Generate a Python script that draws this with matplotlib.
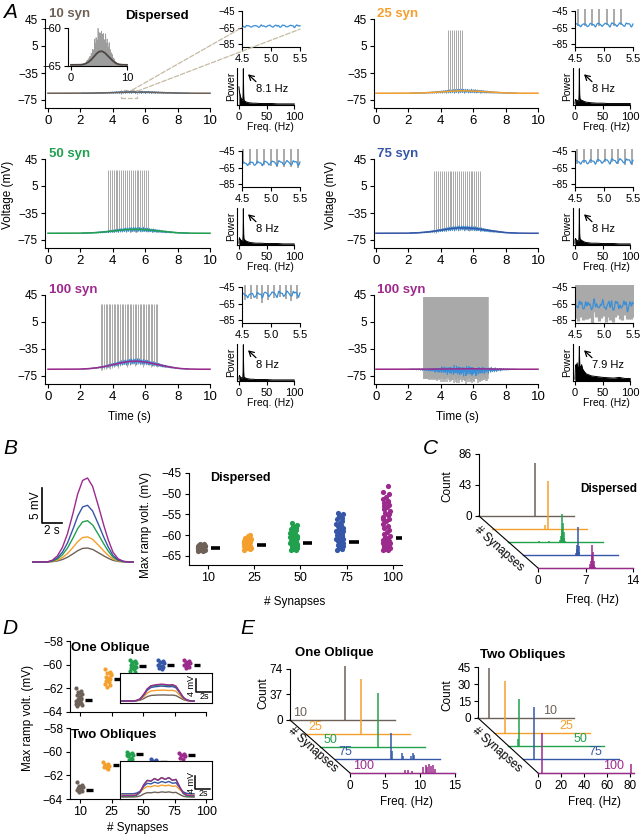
import numpy as np
import matplotlib
matplotlib.use("Agg")
import matplotlib.pyplot as plt
from matplotlib.patches import Rectangle, ConnectionPatch
from matplotlib.lines import Line2D

plt.rcParams['font.family'] = ['Liberation Sans', 'DejaVu Sans']
plt.rcParams['axes.linewidth'] = 0.8
plt.rcParams['xtick.major.width'] = 0.8
plt.rcParams['ytick.major.width'] = 0.8
plt.rcParams['xtick.major.size'] = 3
plt.rcParams['ytick.major.size'] = 3
plt.rcParams['xtick.major.pad'] = 2
plt.rcParams['ytick.major.pad'] = 2

##### data
syn_groups = ['10', '25', '50', '75', '100']
syn_colors = ['#6e6157', '#f5a02c', '#21a04e', '#3656a8', '#9c2a8d']
theta_col = '#3b8fd6'
spike_col = '#a9a9a9'

# ramp envelope (normalised), sampled every 0.5 s
ramp_t = [0, 0.5, 1, 1.5, 2, 2.5, 3, 3.5, 4, 4.5, 5, 5.5, 6, 6.5, 7, 7.5, 8, 8.5, 9, 9.5, 10]
ramp_shape = [0, 0, 0, 0, 0.02, 0.07, 0.17, 0.33, 0.55, 0.80, 0.97, 1.0, 0.90, 0.70,
              0.48, 0.28, 0.12, 0.04, 0.01, 0, 0]
baseline_v = -65.0

# panel A
a_titles = ['10 syn', '25 syn', '50 syn', '75 syn', '100 syn', '100 syn']
a_color_idx = [0, 1, 2, 3, 4, 4]
a_ramp_peak = [1.8, 3.6, 5.9, 8.1, 12.0, 0.8]
a_theta_amp = [1.0, 1.8, 2.2, 2.3, 2.6, 3.5]
a_theta_dc = [0, 0, 0, 0, 0, -3.0]
a_theta_freq = [8.1, 8.0, 8.0, 8.0, 8.0, 7.9]
a_rough = [0.5, 0.3, 0.3, 0.3, 0.4, 1.0]
a_spike_on = [0, 4.42, 3.70, 3.60, 3.25, 2.95]
a_spike_off = [0, 5.40, 6.20, 6.50, 6.80, 6.95]
a_spike_rate = [0, 8.0, 8.5, 8.5, 10.0, 25.0]
a_spike_peak = [0, 28, 28, 27, 32, 42]
a_spike_low = [0, 0, -1, -1, -4, -14]

psd_freq = [0, 0.5, 1, 2, 3, 4, 5, 6, 7, 7.5, 8, 8.5, 9, 10, 11, 12, 14, 16, 18, 20,
            25, 30, 40, 50, 60, 70, 80, 90, 100]
psd_vals = [
    [0.50, 0.42, 0.35, 0.28, 0.22, 0.18, 0.15, 0.13, 0.14, 0.30, 1.00, 0.28, 0.14, 0.12, 0.10,
     0.09, 0.08, 0.07, 0.06, 0.06, 0.05, 0.05, 0.04, 0.04, 0.04, 0.03, 0.03, 0.03, 0.03],
    [0.05, 0.10, 0.15, 0.14, 0.13, 0.12, 0.12, 0.12, 0.14, 0.30, 1.00, 0.30, 0.15, 0.16, 0.14,
     0.13, 0.12, 0.10, 0.09, 0.08, 0.07, 0.06, 0.05, 0.05, 0.04, 0.04, 0.04, 0.04, 0.04],
    [0.05, 0.15, 0.20, 0.16, 0.14, 0.13, 0.12, 0.12, 0.14, 0.30, 1.00, 0.30, 0.16, 0.15, 0.13,
     0.12, 0.10, 0.09, 0.08, 0.07, 0.06, 0.05, 0.05, 0.04, 0.04, 0.04, 0.03, 0.03, 0.03],
    [0.05, 0.15, 0.18, 0.15, 0.13, 0.12, 0.12, 0.12, 0.14, 0.30, 1.00, 0.30, 0.16, 0.16, 0.14,
     0.13, 0.11, 0.09, 0.08, 0.07, 0.06, 0.05, 0.05, 0.04, 0.04, 0.04, 0.03, 0.03, 0.03],
    [0.05, 0.12, 0.15, 0.12, 0.10, 0.09, 0.09, 0.09, 0.10, 0.25, 1.00, 0.25, 0.11, 0.10, 0.09,
     0.08, 0.07, 0.06, 0.06, 0.05, 0.05, 0.04, 0.04, 0.04, 0.03, 0.03, 0.03, 0.03, 0.03],
    [0.05, 0.20, 0.40, 0.45, 0.38, 0.50, 0.36, 0.30, 0.42, 0.55, 0.95, 0.52, 0.34, 0.40, 0.30,
     0.45, 0.33, 0.28, 0.24, 0.20, 0.17, 0.14, 0.12, 0.10, 0.09, 0.08, 0.10, 0.07, 0.07],
]
psd_labels = ['8.1 Hz', '8 Hz', '8 Hz', '8 Hz', '8 Hz', '7.9 Hz']

# panel B
b_peak = [2.0, 3.6, 5.9, 8.1, 12.0]
b10 = [-63.9, -63.7, -63.6, -63.5, -63.4, -63.3, -63.3, -63.2, -63.1, -63.0, -63.0, -62.9,
       -62.8, -62.7, -62.6, -62.5, -62.4, -62.3, -62.2, -62.1, -63.8, -63.4, -63.1, -62.9,
       -62.7, -63.6, -63.2, -62.5, -62.8, -63.5]
b25 = [-63.6, -63.4, -63.2, -63.0, -62.8, -62.7, -62.5, -62.3, -62.2, -62.0, -61.9, -61.7,
       -61.5, -61.3, -61.1, -60.9, -60.6, -60.3, -60.0, -62.9, -62.4, -61.8, -61.2, -63.1, -62.6]
b50 = [-63.7, -63.5, -63.3, -63.1, -62.9, -62.7, -62.5, -62.3, -62.1, -61.9, -61.7, -61.5,
       -61.3, -61.1, -60.9, -60.7, -60.5, -60.3, -60.1, -59.9, -59.7, -59.4, -59.1, -58.8,
       -58.5, -58.2, -57.9, -57.5, -57.1, -62.8, -62.2, -61.6, -61.0, -60.4, -59.8, -63.0, -62.0]
b75 = [-63.6, -63.3, -63.0, -62.7, -62.4, -62.1, -61.8, -61.5, -61.2, -60.9, -60.6, -60.3,
       -60.0, -59.7, -59.4, -59.1, -58.8, -58.5, -58.2, -57.9, -57.6, -57.3, -57.0, -56.6,
       -56.2, -55.8, -55.4, -55.0, -54.6, -62.9, -61.0, -59.2, -60.8, -58.9]
b100 = [-63.7, -63.5, -63.3, -63.1, -62.9, -62.7, -62.5, -62.3, -62.1, -61.9, -61.7, -61.5,
        -61.2, -60.9, -60.5, -60.1, -59.7, -59.2, -58.7, -58.2, -57.7, -57.2, -56.7, -56.2,
        -55.7, -55.2, -54.7, -54.2, -53.7, -53.2, -52.7, -52.2, -51.7, -51.2, -50.7, -50.2,
        -49.7, -48.1, -62.6, -62.0, -61.4, -63.0, -55.0, -53.0, -52.0, -56.0]
b_points = [b10, b25, b50, b75, b100]
b_means = [-63.2, -62.4, -61.8, -61.6, -60.6]

# panel C (spike frequency histograms)
c_freqs = [[8.2],
           [7.8, 8.2],
           [4.6, 6.0, 7.7, 7.8, 7.9, 8.0, 8.1, 8.2, 8.3, 8.4],
           [7.8, 7.9, 8.0, 8.1, 8.2, 8.3],
           [7.6, 7.7, 7.8, 7.9, 8.0, 8.1, 8.2, 8.3, 8.4]]
c_counts = [[73],
            [5, 67],
            [1, 1, 3, 8, 18, 39, 26, 14, 6, 2],
            [3, 8, 14, 39, 12, 4],
            [2, 5, 10, 18, 32, 22, 10, 4, 2]]

# panel D
d1_points = [[-62.0, -62.2, -62.3, -62.5, -62.6, -62.7, -62.8, -62.9, -63.0, -63.1, -63.2,
              -63.3, -63.4, -63.5, -62.4, -62.9, -63.1, -62.7, -63.3],
             [-60.4, -60.6, -60.7, -60.8, -61.0, -61.1, -61.2, -61.3, -61.5, -61.6, -61.7,
              -61.9, -60.9, -61.4],
             [-59.6, -59.7, -59.8, -59.9, -60.0, -60.1, -60.2, -60.3, -60.4, -60.5, -60.6,
              -59.9, -60.2],
             [-59.6, -59.7, -59.8, -59.9, -60.0, -60.1, -60.2, -60.3, -60.4, -60.0, -59.8],
             [-59.6, -59.7, -59.8, -59.9, -60.0, -60.1, -60.2, -60.3, -59.9, -60.0]]
d1_means = [-63.0, -61.2, -60.1, -60.0, -60.0]
d2_points = [[-62.6, -62.8, -62.9, -63.0, -63.1, -63.2, -63.3, -63.4, -63.0, -63.2],
             [-60.9, -61.0, -61.1, -61.2, -61.3, -61.4, -61.5, -61.1, -61.2],
             [-60.0, -60.1, -60.2, -60.3, -60.4, -60.5, -60.6, -60.7, -60.9, -60.3],
             [-60.6, -60.7, -60.8, -60.9, -61.0, -61.1, -60.8],
             [-60.1, -60.2, -60.3, -60.4, -60.5, -60.6, -60.3]]
d2_means = [-63.2, -61.1, -60.2, -60.9, -60.3]
d_shape_one = [0, 0, 0, 0, 0.03, 0.12, 0.38, 0.72, 0.90, 0.95, 0.97, 1.0, 0.97, 0.95, 0.97,
               0.88, 0.55, 0.22, 0.06, 0.01, 0]
d_shape_two = [0, 0, 0, 0, 0.05, 0.20, 0.60, 0.85, 0.80, 0.95, 0.85, 1.0, 0.90, 1.0, 0.85,
               0.90, 0.50, 0.15, 0.03, 0, 0]
d1_peak = [1.9, 3.4, 5.0, 4.6, 5.2]
d2_peak = [1.6, 2.8, 5.8, 3.8, 5.6]
d2_base = [0, 0.9, 0.2, 1.0, 0.4]

# panel E
e1_freqs = [[7.9], [8.0], [8.3],
            [8.0, 8.1, 9.6, 9.7, 10.9, 11.1, 11.3],
            [7.9, 8.3, 8.8, 10.5, 10.8, 11.0, 11.3, 11.6, 11.9, 12.2]]
e1_counts = [[78], [79], [78],
             [38, 12, 8, 5, 4, 8, 6],
             [5, 4, 3, 8, 12, 9, 13, 10, 12, 6]]
e2_freqs = [[10], [10], [8.8, 9.5], [9.3], [3.5, 81]]
e2_counts = [[44], [46], [6, 42], [46], [35, 8]]

#####
W, H = 642, 836
fig = plt.figure(figsize=(W / 100, H / 100), dpi=100)


def pax(x0, y0, x1, y1):
    return fig.add_axes([x0 / W, 1 - y1 / H, (x1 - x0) / W, (y1 - y0) / H])


def ftext(x, y, s, **kw):
    kw.setdefault('ha', 'center')
    kw.setdefault('va', 'center')
    return fig.text(x / W, 1 - y / H, s, **kw)


def clean(ax):
    ax.spines['top'].set_visible(False)
    ax.spines['right'].set_visible(False)
    ax.patch.set_alpha(0)


def traces(i, t):
    env = np.interp(t, ramp_t, ramp_shape)
    ramp = baseline_v + a_ramp_peak[i] * env
    f = a_theta_freq[i]
    osc = np.sin(2 * np.pi * f * t) + 0.35 * np.sin(4 * np.pi * f * t + 0.8)
    osc = osc + a_rough[i] * (0.6 * np.sin(2 * np.pi * 13.1 * t)
                              + 0.5 * np.sin(2 * np.pi * 19.7 * t + 1.0)
                              + 0.4 * np.sin(2 * np.pi * 27.3 * t + 2.0))
    theta = ramp + env * (a_theta_amp[i] * osc + a_theta_dc[i])
    return env, ramp, theta


def spikes(i):
    if a_spike_rate[i] == 0:
        return np.array([])
    return np.arange(a_spike_on[i], a_spike_off[i], 1.0 / a_spike_rate[i])


col_geom = [(45, 212, 48), (374, 540, 376)]
row_off = [0, 140, 276]
t = np.linspace(0, 10, 4001)

for i in range(6):
    c, r = i % 2, i // 2
    x0, x1, xz = col_geom[c]
    dy = row_off[r]
    col = syn_colors[a_color_idx[i]]
    env, ramp, theta = traces(i, t)
    st = spikes(i)

    ax = pax(x0, 15 + dy, x1, 108 + dy)
    clean(ax)
    xl, xr = -(xz - x0) / 16.2, (x1 - xz) / 16.2
    yb = -75 - 8 / 0.675
    ax.set_xlim(xl, xr)
    ax.set_ylim(yb, 45 + 4 / 0.675)
    ax.spines['left'].set_bounds(yb, 45)
    ax.spines['bottom'].set_bounds(xl, 10)
    ax.set_yticks([-75, -35, 5, 45])
    ax.set_xticks([0, 2, 4, 6, 8, 10])
    ax.tick_params(axis='x', labelsize=9.5)
    ax.tick_params(axis='y', labelsize=8.5)
    if len(st):
        lo = np.interp(st, t, theta) + a_spike_low[i]
        ax.vlines(st, lo, a_spike_peak[i], color=spike_col, lw=0.7 if i < 5 else 1.1)
    ax.plot(t, ramp + (theta - ramp) * 1.3, color=spike_col, lw=0.6)
    th = np.where(env > 0.03, theta, np.nan)
    ax.plot(t, th, color=theta_col, lw=0.8)
    ax.plot(t, ramp, color=col, lw=1.1)
    ftext(xz + 1, 14 + dy, a_titles[i], color=col, fontweight='bold', fontsize=9.5, ha='left')

    # zoomed voltage inset (4.5-5.5 s)
    vx0 = [242, 575][c]
    vin = pax(vx0, 9 + dy, vx0 + 59, 47 + dy)
    clean(vin)
    vb = -85 - 3 / 0.825
    vin.set_xlim(4.5, 4.5 + 59 / 58)
    vin.set_ylim(vb, -45 + 2 / 0.825)
    vin.spines['left'].set_bounds(vb, -45)
    vin.spines['bottom'].set_bounds(4.5, 5.5)
    vin.set_yticks([-85, -65, -45])
    vin.set_xticks([4.5, 5.0, 5.5])
    vin.set_xticklabels(['4.5', '5.0', '5.5'])
    vin.tick_params(axis='x', labelsize=8)
    vin.tick_params(axis='y', labelsize=7)
    tt = np.linspace(4.5, 5.5, 800)
    env2, ramp2, theta2 = traces(i, tt)
    sst = st[(st >= 4.45) & (st <= 5.55)] if len(st) else st
    if len(sst):
        lo2 = np.interp(sst, tt, theta2) + a_spike_low[i] - 2
        vin.vlines(sst, lo2, 60, color=spike_col, lw=1.4 if i < 5 else 2.3)
    vin.plot(tt, theta2, color=theta_col, lw=0.9)

    # power spectrum inset
    px0 = [237, 573][c]
    pin = pax(px0, 68 + dy, px0 + 60, 105 + dy)
    clean(pin)
    pin.set_xlim(-3.5, 105)
    pin.set_ylim(0, 1.02)
    pin.spines['bottom'].set_bounds(-3.5, 100)
    pin.set_yticks([])
    pin.set_xticks([0, 50, 100])
    pin.tick_params(axis='x', labelsize=8)
    pin.fill_between(psd_freq, psd_vals[i], color='k', lw=0)
    pin.plot(psd_freq, psd_vals[i], color='k', lw=0.7)
    pin.annotate('', xy=(0.15, 0.88), xytext=(0.35, 0.58), xycoords='axes fraction',
                 arrowprops=dict(arrowstyle='->,head_width=0.2,head_length=0.35', lw=0.9, color='k'))
    pin.text(0.32, 0.44, psd_labels[i], transform=pin.transAxes, fontsize=8, ha='left', va='center')
    ftext(px0 - 6, 86 + dy, 'Power', rotation=90, fontsize=7.5)
    ftext(px0 + 33, 127 + dy, 'Freq. (Hz)', fontsize=7.5)

    if i == 0:
        ax.add_patch(Rectangle((4.5, -72), 1.0, 11.8, fill=False, ls='--', ec='#c5bba3', lw=0.9))
        for pa, pb in [((5.2, -60.2), (4.5, -65)), ((5.5, -62), (5.5, -67))]:
            cp = ConnectionPatch(xyA=pa, coordsA=ax.transData, xyB=pb, coordsB=vin.transData,
                                 ls='--', color='#c5bba3', lw=0.9)
            fig.add_artist(cp)
        # small inset of the 10 syn ramp
        mi = pax(68, 26, 128, 66)
        clean(mi)
        mi.set_xlim(-0.54, 10.18)
        mi.set_ylim(-65, -59.74)
        mi.spines['left'].set_bounds(-65, -60)
        mi.spines['bottom'].set_bounds(-0.54, 10)
        mi.set_yticks([-65, -60])
        mi.set_xticks([0, 10])
        mi.tick_params(labelsize=8)
        mi.plot(t, ramp + 2.2 * (theta - ramp), color='#9d9d9d', lw=0.5)
        mi.plot(t, ramp + 0.15, color='#4d4642', lw=1.3)
        ftext(125, 16, 'Dispersed', fontweight='bold', fontsize=9.5, ha='left')
    if r == 1:
        ftext([8, 331][c], 195, 'Voltage (mV)', rotation=90, fontsize=8.5)
    if r == 2:
        ftext(xz + 81, 417, 'Time (s)', fontsize=8.5)

ftext(3, 12, 'A', fontsize=15, fontstyle='italic', ha='left')

##### panel B
ftext(3, 448, 'B', fontsize=15, fontstyle='italic', ha='left')
bt = pax(32, 470, 135, 565)
bt.axis('off')
bt.set_xlim(0, 10.2)
bt.set_ylim(-0.43, 13.14)
tb = np.linspace(0, 10, 400)
envb = np.interp(tb, ramp_t, ramp_shape)
for k in range(5):
    bt.plot(tb, b_peak[k] * envb, color=syn_colors[k], lw=1.0)
bt.plot([1.0, 1.0, 3.0], [10.57, 5.57, 5.57], color='k', lw=1.2)
bt.text(0.35, 8.1, '5 mV', rotation=90, ha='center', va='center', fontsize=8.5)
bt.text(2.0, 4.4, '2 s', ha='center', va='center', fontsize=8.5)

jit = [-0.07, 0.04, -0.02, 0.07, -0.05, 0.01, 0.06, -0.04, 0.03, -0.08, 0.0, 0.05]
bs = pax(189, 470, 402, 565)
clean(bs)
bs.set_xlim(-0.41, 4.2)
bs.set_ylim(-67.2, -44.3)
bs.spines['left'].set_bounds(-67.2, -45)
bs.spines['bottom'].set_bounds(-0.41, 4.2)
bs.set_yticks([-65, -60, -55, -50, -45])
bs.set_xticks(range(5))
bs.set_xticklabels(syn_groups)
bs.tick_params(axis='x', labelsize=9)
bs.tick_params(axis='y', labelsize=8.5)
for k in range(5):
    v = b_points[k]
    xs = k - 0.14 + np.resize(jit, len(v))
    bs.scatter(xs, v, s=14, color=syn_colors[k], lw=0, zorder=3)
    bs.plot([k + 0.06, k + 0.26], [b_means[k]] * 2, color='k', lw=2.6, solid_capstyle='butt')
bs.text(0.05, -46.2, 'Dispersed', fontweight='bold', fontsize=9, ha='left', va='center')
ftext(146, 525, 'Max ramp volt. (mV)', rotation=90, fontsize=8.5)
ftext(295, 602, '# Synapses', fontsize=8.5)


##### stacked histograms (C, E)
def stack(bases, wpx, hpx, xmax, ymax, freqs, counts, yticks, xticks, lw=1.1):
    axs = []
    for k, (bx, by) in enumerate(bases):
        a = pax(bx, by - hpx, bx + wpx, by)
        a.patch.set_alpha(0)
        for s in a.spines.values():
            s.set_visible(False)
        a.set_xlim(0, xmax)
        a.set_ylim(0, ymax)
        a.set_xticks([])
        a.set_yticks([])
        a.vlines(freqs[k], 0, counts[k], color=syn_colors[k], lw=lw, snap=True)
        a.plot([0, xmax], [0, 0], color=syn_colors[k], lw=1.0, clip_on=False, zorder=4)
        axs.append(a)
    back, front = axs[0], axs[-1]
    back.spines['left'].set_visible(True)
    back.spines['left'].set_bounds(0, yticks[-1])
    back.set_yticks(yticks)
    back.tick_params(axis='y', labelsize=8.5)
    front.spines['bottom'].set_visible(True)
    front.set_xticks(xticks)
    front.tick_params(axis='x', labelsize=8.5)
    (bx0, by0), (bx1, by1) = bases[0], bases[-1]
    fig.add_artist(Line2D([bx0 / W, bx1 / W], [1 - by0 / H, 1 - by1 / H], color='k', lw=0.8))
    return axs


ftext(423, 448, 'C', fontsize=15, fontstyle='italic', ha='left')
c_axes = stack([(479, 516), (492, 529), (508, 542), (523, 555), (538, 568)], 95, 66, 14,
               66 / 0.721, c_freqs, c_counts, [0, 43, 86], [0, 7, 14])
ftext(580, 489, 'Dispersed', fontweight='bold', fontsize=8.5, ha='left')
ftext(447, 486, 'Count', rotation=90, fontsize=8.5)
ftext(499, 549, '# Synapses', rotation=-41.5, fontsize=8.5)
ftext(593, 600, 'Freq. (Hz)', fontsize=8.5)

##### panel D
ftext(2, 628, 'D', fontsize=15, fontstyle='italic', ha='left')
d_pos_one = [-0.03, 0.89, 1.68, 2.57, 3.40]
d_pos_two = [0.0, 0.83, 1.59, 2.35, 3.24]
jd = [-0.09, 0.05, -0.03, 0.09, -0.06, 0.02, 0.07, -0.05, 0.03]
for row, (pts, means, pos, ytop, ybot, title) in enumerate([
        (d1_points, d1_means, d_pos_one, 638, 712, 'One Oblique'),
        (d2_points, d2_means, d_pos_two, 725, 799, 'Two Obliques')]):
    dax = pax(70, ytop, 208, ybot)
    clean(dax)
    dax.set_xlim(-0.32, 4.06)
    dax.set_ylim(-64, -58 + (ybot - ytop - 71) / 11.8)
    dax.spines['left'].set_bounds(-64, -58)
    dax.spines['bottom'].set_bounds(-0.32, 4)
    dax.set_yticks([-64, -62, -60, -58])
    dax.set_xticks(range(5))
    dax.tick_params(axis='y', labelsize=8.5)
    dax.tick_params(axis='x', labelsize=9)
    if row == 0:
        dax.set_xticklabels([])
    else:
        dax.set_xticklabels(syn_groups)
    for k in range(5):
        v = pts[k]
        dax.scatter(pos[k] + np.resize(jd, len(v)), v, s=9, color=syn_colors[k], lw=0, zorder=3)
        dax.plot([pos[k] + 0.2, pos[k] + 0.42], [means[k]] * 2, color='k', lw=2.4,
                 solid_capstyle='butt')
    dax.text(-0.28, -58.55, title, fontweight='bold', fontsize=9.5, ha='left', va='center')

    # inset ramp traces
    if row == 0:
        ins = pax(120, 673, 212, 703)
        ins.set_ylim(-0.6, 8.6)
        shp, peaks, bases0 = d_shape_one, d1_peak, [0] * 5
        sb = (10.3, 2.8)
    else:
        ins = pax(120, 761, 212, 799)
        ins.set_ylim(-0.6, 11.1)
        shp, peaks, bases0 = d_shape_two, d2_peak, d2_base
        sb = (10.2, 2.5)
    ins.set_xlim(-0.28, 12.5)
    ins.set_xticks([])
    ins.set_yticks([])
    td = np.linspace(0, 10, 300)
    envd = np.interp(td, ramp_t, shp)
    for k in range(5):
        ins.plot(td, bases0[k] + peaks[k] * envd, color=syn_colors[k], lw=1.0)
    ins.plot([sb[0], sb[0], sb[0] + 2], [sb[1] + 4, sb[1], sb[1]], color='k', lw=1.1)
    ins.text(sb[0] - 0.6, sb[1] + 2, '4 mV', rotation=90, fontsize=6.5, ha='center', va='center')
    ins.text(sb[0] + 1.1, sb[1] - 1.5, '2s', fontsize=6.5, ha='center', va='center')

ftext(28, 718, 'Max ramp volt. (mV)', rotation=90, fontsize=8.5)
ftext(138, 828, '# Synapses', fontsize=8.5)

##### panel E
ftext(240, 628, 'E', fontsize=15, fontstyle='italic', ha='left')
e1_axes = stack([(290, 720), (305, 734), (320, 747), (335, 759), (350, 773)], 105, 62, 15,
                62 / 0.69, e1_freqs, e1_counts, [0, 37, 74], [0, 5, 10, 15])
e2_axes = stack([(478, 718), (494, 733), (508, 746), (523, 759), (538, 773)], 96, 60, 83.5,
                60 / 1.13, e2_freqs, e2_counts, [0, 15, 30, 45], [0, 20, 40, 60, 80])
for k in range(5):
    e1_axes[k].text(0.03, 0.02, syn_groups[k], transform=e1_axes[k].transAxes,
                    color=syn_colors[k], fontsize=9, ha='left', va='bottom')
    e2_axes[k].text(0.68, 0.02, syn_groups[k], transform=e2_axes[k].transAxes,
                    color=syn_colors[k], fontsize=9, ha='left', va='bottom')
ftext(295, 653, 'One Oblique', fontweight='bold', fontsize=9.5, ha='left')
ftext(480, 655, 'Two Obliques', fontweight='bold', fontsize=9.5, ha='left')
ftext(263, 693, 'Count', rotation=90, fontsize=8.5)
ftext(447, 695, 'Count', rotation=90, fontsize=8.5)
ftext(313, 750, '# Synapses', rotation=-41.5, fontsize=8.5)
ftext(497, 750, '# Synapses', rotation=-41.5, fontsize=8.5)
ftext(407, 802, 'Freq. (Hz)', fontsize=8.5)
ftext(595, 802, 'Freq. (Hz)', fontsize=8.5)

fig.savefig('out.png', dpi=100)
